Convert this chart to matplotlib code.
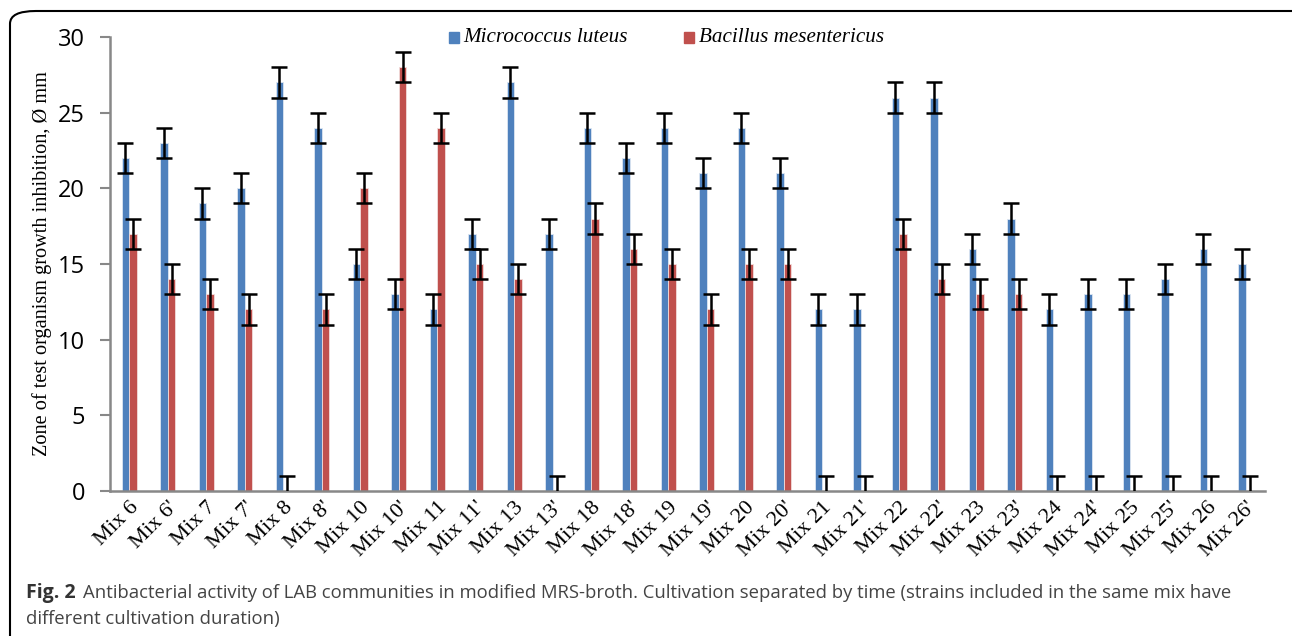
import numpy as np
import matplotlib.pyplot as plt
from matplotlib.patches import FancyBboxPatch, Rectangle

categories = ["Mix 6", "Mix 6'", "Mix 7", "Mix 7'", "Mix 8", "Mix 8'", "Mix 10", "Mix 10'",
              "Mix 11", "Mix 11'", "Mix 13", "Mix 13'", "Mix 18", "Mix 18'", "Mix 19", "Mix 19'",
              "Mix 20", "Mix 20'", "Mix 21", "Mix 21'", "Mix 22", "Mix 22'", "Mix 23", "Mix 23'",
              "Mix 24", "Mix 24'", "Mix 25", "Mix 25'", "Mix 26", "Mix 26'"]
luteus = [22, 23, 19, 20, 27, 24, 15, 13, 12, 17, 27, 17, 24, 22, 24, 21,
          24, 21, 12, 12, 26, 26, 16, 18, 12, 13, 13, 14, 16, 15]
mesentericus = [17, 14, 13, 12, 0, 12, 20, 28, 24, 15, 14, 0, 18, 16, 15, 12,
                15, 15, 0, 0, 17, 14, 13, 13, 0, 0, 0, 0, 0, 0]
err = 1
yticks = [0, 5, 10, 15, 20, 25, 30]

blue = "#4F81BD"
red = "#C0504D"

fig = plt.figure(figsize=(12.92, 6.36), dpi=100)
ax = fig.add_axes([110 / 1292, 1 - 491 / 636, 1155 / 1292, 454 / 636])

x = np.arange(len(categories))
w = 0.2
ax.bar(x - w / 2, luteus, w, color=blue, edgecolor="#DCE6F2", linewidth=0.6, zorder=2)
ax.bar(x + w / 2, mesentericus, w, color=red, edgecolor="#F2DCDB", linewidth=0.6, zorder=2)
ax.errorbar(x - w / 2, luteus, yerr=err, fmt="none", ecolor="black", elinewidth=1.8,
            capsize=5.5, capthick=1.8, zorder=3)
ax.errorbar(x + w / 2, mesentericus, yerr=err, fmt="none", ecolor="black", elinewidth=1.8,
            capsize=5.5, capthick=1.8, zorder=3)

ax.set_xlim(-0.5, len(categories) - 0.5)
ax.set_ylim(0, 30)
ax.set_yticks(yticks)
ax.tick_params(axis="y", labelsize=17, length=7, color="#888888", width=1.5, pad=11,
               labelcolor="black")
for lab in ax.get_yticklabels():
    lab.set_fontfamily("Open Sans")
ax.set_xticks(x)
ax.set_xticklabels(categories, rotation=45, ha="right", rotation_mode="anchor",
                   fontsize=16, family="Liberation Serif")
ax.tick_params(axis="x", length=0, pad=5)
for s in ["top", "right"]:
    ax.spines[s].set_visible(False)
for s in ["left", "bottom"]:
    ax.spines[s].set_color("#888888")
    ax.spines[s].set_linewidth(1.8)
ax.set_ylabel("Zone of test organism growth inhibition, Ø mm", family="Liberation Serif",
              fontsize=14.6, labelpad=4)

# legend
fig.patches.append(Rectangle((449 / 1292, 1 - 43 / 636), 10 / 1292, 11 / 636,
                             transform=fig.transFigure, color=blue))
fig.text(463 / 1292, 1 - 37 / 636, "Micrococcus luteus", family="Liberation Serif",
         style="italic", fontsize=15.2, va="center")
fig.patches.append(Rectangle((684 / 1292, 1 - 43 / 636), 10 / 1292, 11 / 636,
                             transform=fig.transFigure, color=red))
fig.text(699 / 1292, 1 - 37 / 636, "Bacillus mesentericus", family="Liberation Serif",
         style="italic", fontsize=15.2, va="center")

# frame
fig.patches.append(FancyBboxPatch((10 / 1292, -0.05), 1.1, 1 - 11 / 636 + 0.05,
                                  boxstyle="round,pad=0,rounding_size=0.02",
                                  transform=fig.transFigure, fill=False,
                                  edgecolor="black", linewidth=1.5))

# caption
fig.text(26 / 1292, 1 - 593 / 636, "Fig. 2", fontsize=14, va="center", weight="bold",
         color="#333333", family="Open Sans")
fig.text(83 / 1292, 1 - 593 / 636,
         "Antibacterial activity of LAB communities in modified MRS-broth. Cultivation "
         "separated by time (strains included in the same mix have",
         fontsize=13.3, va="center", color="#444444", family="Open Sans")
fig.text(26 / 1292, 1 - 619 / 636, "different cultivation duration)", fontsize=13.3,
         va="center", color="#444444", family="Open Sans")

fig.savefig("out.png", dpi=100)
